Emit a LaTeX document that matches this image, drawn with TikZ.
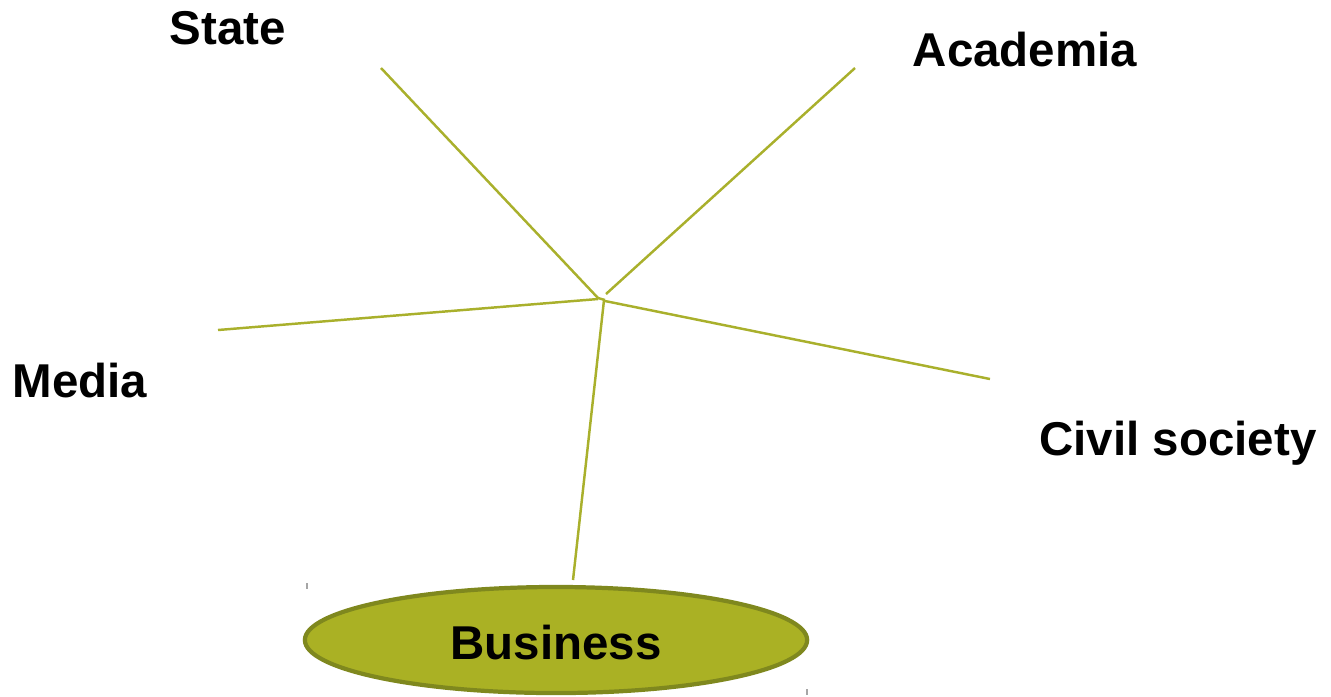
\documentclass[tikz,border=0pt]{standalone}
\usepackage{fontspec}
\setmainfont{Liberation Sans}
\usetikzlibrary{shapes.geometric}
\definecolor{linecol}{HTML}{A9B02C}
\definecolor{ellfill}{HTML}{AAB124}
\definecolor{elldraw}{HTML}{7F881E}
\tikzset{
  lbl/.style={font=\fontsize{13.5}{16}\selectfont\bfseries, inner sep=0pt, text=black},
  conn/.style={draw=linecol, line width=0.7pt},
  tick/.style={draw=gray!70, line width=0.4pt}
}
\begin{document}
\begin{tikzpicture}[x=0.01cm,y=-0.01cm]
\useasboundingbox (0,0) rectangle (1331,696);
\node[lbl] (state) at (228,28) {State};
\node[lbl] (acad) at (1025,50) {Academia};
\node[lbl] (media) at (80,381) {Media};
\node[lbl] (civil) at (1178,443) {Civil society};
\node[ellipse, draw=elldraw, fill=ellfill, line width=1.2pt, minimum width=5.02cm, minimum height=1.06cm, inner sep=0pt] (bus) at (556,640) {};
\node[lbl] (bustext) at (556,643) {Business};
\coordinate (s1) at (381,68);
\coordinate (s2) at (598,298);
\coordinate (a1) at (855,68);
\coordinate (a2) at (606,294);
\coordinate (m1) at (218,330);
\coordinate (m2) at (598,299);
\coordinate (c1) at (605,301);
\coordinate (c2) at (990,379);
\coordinate (b1) at (604,300);
\coordinate (b2) at (573,580);
\coordinate (j1) at (598,298);
\coordinate (j2) at (605,300);
\draw[conn] (s1) -- (s2);
\draw[conn] (a1) -- (a2);
\draw[conn] (m1) -- (m2);
\draw[conn] (c1) -- (c2);
\draw[conn] (b1) -- (b2);
\draw[conn] (j1) -- (j2);
\coordinate (t1a) at (307,583);
\coordinate (t1b) at (307,589);
\coordinate (t2a) at (807,689);
\coordinate (t2b) at (807,695);
\draw[tick] (t1a) -- (t1b);
\draw[tick] (t2a) -- (t2b);
\end{tikzpicture}
\end{document}
